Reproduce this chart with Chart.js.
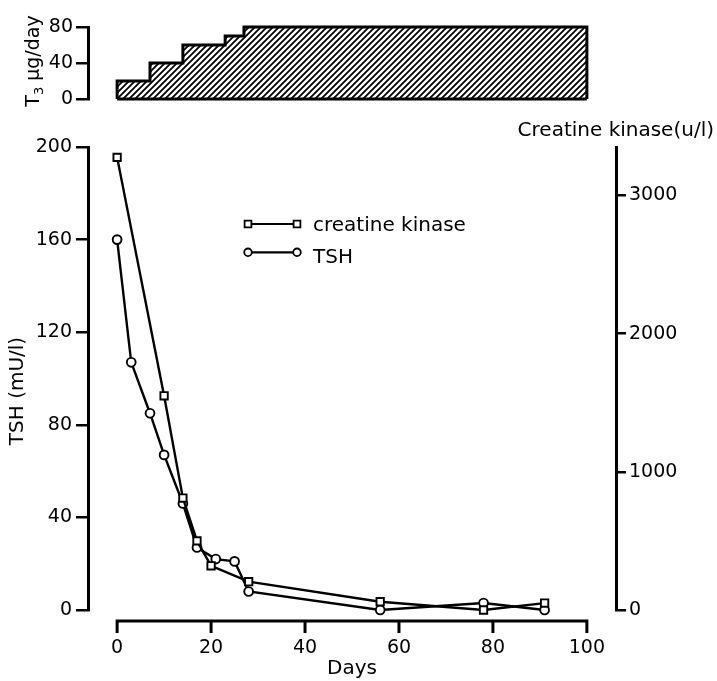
<!DOCTYPE html>
<html lang="en">
<head>
<meta charset="UTF-8">
<title>T3 dose, TSH and creatine kinase</title>
<script src="https://cdn.jsdelivr.net/npm/chart.js@4"></script>
<style>
    body { margin: 0; background: #fff; }
    #wrap { position: relative; width: 717px; height: 681px; }
    #t3Chart { position: absolute; left: 0; top: 0; }
    #mainChart { position: absolute; left: 0; top: 115px; }
</style>
</head>
<body>
<div id="wrap">
    <canvas id="t3Chart" width="717" height="115"></canvas>
    <canvas id="mainChart" width="717" height="566"></canvas>
</div>
<script>
// T3 dose: day each dose starts, and the dose (µg/day)
const t3StartDays = [0, 7, 14, 23, 27];
const t3Dose = [20, 40, 60, 70, 80];
const t3EndDay = 100;

// TSH (mU/l)
const tshDays = [0, 3, 7, 10, 14, 17, 21, 25, 28, 56, 78, 91];
const tshValues = [160, 107, 85, 67, 46, 27, 22, 21, 8, 0, 3, 0];

// creatine kinase (u/l)
const ckDays = [0, 10, 14, 17, 20, 28, 56, 78, 91];
const ckValues = [3275, 1550, 810, 500, 320, 205, 60, 0, 50];

// tick labels
const dayTicks = [0, 20, 40, 60, 80, 100];
const tshTicks = [0, 40, 80, 120, 160, 200];
const ckTicks = [0, 1000, 2000, 3000];
const t3Ticks = [0, 40, 80];

const FONT = '"DejaVu Sans"';
Chart.defaults.font.family = 'DejaVu Sans';
Chart.defaults.color = '#000';

const X_MIN = -6.2, X_MAX = 106.2;

function setTicks(list) {
    return scale => { scale.ticks = list.map(v => ({ value: v })); };
}
const plain = v => String(v);

// diagonal hatching for the dose area
function hatchPattern(ctx) {
    const c = document.createElement('canvas');
    c.width = 6; c.height = 6;
    const g = c.getContext('2d');
    g.strokeStyle = '#000';
    g.lineWidth = 1.8;
    g.beginPath();
    g.moveTo(-1, 7); g.lineTo(7, -1);
    g.moveTo(-4, 4); g.lineTo(4, -4);
    g.moveTo(2, 10); g.lineTo(10, 2);
    g.stroke();
    return ctx.createPattern(c, 'repeat');
}

// ---------- top chart: T3 dose ----------
const t3Points = [{ x: t3StartDays[0], y: 0 }];
t3StartDays.forEach((d, i) => t3Points.push({ x: d, y: t3Dose[i] }));
t3Points.push({ x: t3EndDay, y: t3Dose[t3Dose.length - 1] }, { x: t3EndDay, y: 0 });

const t3Title = {
    id: 't3Title',
    afterDraw(chart) {
        const ctx = chart.ctx;
        ctx.save();
        ctx.fillStyle = '#000';
        ctx.translate(34, 61);
        ctx.rotate(-Math.PI / 2);
        ctx.textBaseline = 'middle';
        ctx.textAlign = 'left';
        const big = '19px ' + FONT, small = '13px ' + FONT;
        const rest = ' µg/day';
        ctx.font = big;
        const wT = ctx.measureText('T').width;
        const wR = ctx.measureText(rest).width;
        ctx.font = small;
        const w3 = ctx.measureText('3').width;
        const x = -(wT + w3 + wR) / 2;
        ctx.font = big;
        ctx.fillText('T', x, 0);
        ctx.font = small;
        ctx.fillText('3', x + wT, 6);
        ctx.font = big;
        ctx.fillText(rest, x + wT + w3, 0);
        ctx.restore();
    }
};

const t3Canvas = document.getElementById('t3Chart');
new Chart(t3Canvas, {
    type: 'line',
    data: {
        datasets: [{
            data: t3Points,
            stepped: 'before',
            fill: 'origin',
            backgroundColor: hatchPattern(t3Canvas.getContext('2d')),
            borderColor: '#000',
            borderWidth: 3,
            borderJoinStyle: 'miter',
            pointRadius: 0,
            clip: false
        }, {
            data: [{ x: t3StartDays[0], y: 0 }, { x: t3EndDay, y: 0 }],
            borderColor: '#000',
            borderWidth: 3,
            pointRadius: 0,
            fill: false,
            clip: false
        }]
    },
    options: {
        responsive: false,
        animation: false,
        layout: { padding: { top: 27, bottom: 16, left: 0, right: 101 } },
        plugins: { legend: { display: false }, tooltip: { enabled: false } },
        scales: {
            x: { type: 'linear', min: X_MIN, max: X_MAX, display: false },
            y: {
                type: 'linear', min: 0, max: 80,
                afterBuildTicks: setTicks(t3Ticks),
                afterFit: s => { s.width = 88; },
                border: { color: '#000', width: 3 },
                grid: { drawOnChartArea: false, color: '#000', lineWidth: 2.5, tickLength: 12 },
                ticks: { font: { size: 19 }, color: '#000', padding: 3, callback: plain }
            }
        }
    },
    plugins: [t3Title]
});

// ---------- main chart: TSH and creatine kinase ----------
const mainExtras = {
    id: 'mainExtras',
    afterDraw(chart) {
        const { ctx, chartArea } = chart;
        const xs = chart.scales.x;
        ctx.save();
        ctx.strokeStyle = '#000';
        ctx.fillStyle = '#000';

        // days axis, set a little below the plot
        const ay = chartArea.bottom + 11;
        ctx.lineWidth = 3;
        ctx.beginPath();
        ctx.moveTo(xs.getPixelForValue(dayTicks[0]) - 1.5, ay);
        ctx.lineTo(xs.getPixelForValue(dayTicks[dayTicks.length - 1]) + 1.5, ay);
        dayTicks.forEach(d => {
            const px = xs.getPixelForValue(d);
            ctx.moveTo(px, ay);
            ctx.lineTo(px, ay + 12);
        });
        ctx.stroke();

        // axis titles
        ctx.font = '20px ' + FONT;
        ctx.textAlign = 'right';
        ctx.textBaseline = 'alphabetic';
        ctx.fillText('Creatine kinase(u/l)', 714, 21);

        ctx.save();
        ctx.translate(18, 276);
        ctx.rotate(-Math.PI / 2);
        ctx.textAlign = 'center';
        ctx.textBaseline = 'middle';
        ctx.fillText('TSH (mU/l)', 0, 0);
        ctx.restore();

        // legend
        const rows = [
            { text: chart.data.datasets[0].label, style: 'rect', y: 109, base: 115.5 },
            { text: chart.data.datasets[1].label, style: 'circle', y: 137.3, base: 148.3 }
        ];
        rows.forEach(r => {
            ctx.lineWidth = 2.2;
            ctx.beginPath();
            ctx.moveTo(248, r.y);
            ctx.lineTo(297, r.y);
            ctx.stroke();
            [248, 297].forEach(px => {
                ctx.beginPath();
                if (r.style === 'rect') ctx.rect(px - 3.4, r.y - 3.4, 6.8, 6.8);
                else ctx.arc(px, r.y, 3.8, 0, Math.PI * 2);
                ctx.fillStyle = '#fff';
                ctx.fill();
                ctx.lineWidth = 1.8;
                ctx.stroke();
            });
            ctx.fillStyle = '#000';
            ctx.textAlign = 'left';
            ctx.textBaseline = 'alphabetic';
            ctx.fillText(r.text, 313, r.base);
        });
        ctx.restore();
    }
};

new Chart(document.getElementById('mainChart'), {
    type: 'line',
    data: {
        datasets: [{
            label: 'creatine kinase',
            data: ckDays.map((d, i) => ({ x: d, y: ckValues[i] })),
            yAxisID: 'yCK',
            borderColor: '#000',
            borderWidth: 2.4,
            pointStyle: 'rect',
            pointRadius: 5.2,
            pointBackgroundColor: '#fff',
            pointBorderColor: '#000',
            pointBorderWidth: 1.9,
            clip: false
        }, {
            label: 'TSH',
            data: tshDays.map((d, i) => ({ x: d, y: tshValues[i] })),
            yAxisID: 'yTSH',
            borderColor: '#000',
            borderWidth: 2.4,
            pointStyle: 'circle',
            pointRadius: 4.4,
            pointBackgroundColor: '#fff',
            pointBorderColor: '#000',
            pointBorderWidth: 1.9,
            clip: false
        }]
    },
    options: {
        responsive: false,
        animation: false,
        layout: { padding: { top: 32, bottom: 0, left: 0, right: 0 } },
        plugins: { legend: { display: false }, tooltip: { enabled: false } },
        scales: {
            x: {
                type: 'linear', min: X_MIN, max: X_MAX,
                afterBuildTicks: setTicks(dayTicks),
                afterFit: s => { s.height = 71; },
                border: { display: false },
                grid: { display: false, drawTicks: false },
                ticks: { font: { size: 19 }, color: '#000', padding: 27, maxRotation: 0, autoSkip: false, callback: plain },
                title: { display: true, text: 'Days', font: { size: 20 }, color: '#000', padding: { top: 0, bottom: 0 } }
            },
            yTSH: {
                type: 'linear', axis: 'y', position: 'left', min: 0, max: 200,
                afterBuildTicks: setTicks(tshTicks),
                afterFit: s => { s.width = 88; },
                border: { color: '#000', width: 3 },
                grid: { drawOnChartArea: false, color: '#000', lineWidth: 2.5, tickLength: 12 },
                ticks: { font: { size: 19 }, color: '#000', padding: 4, callback: plain }
            },
            yCK: {
                type: 'linear', axis: 'y', position: 'right', min: 0, max: 3350,
                afterBuildTicks: setTicks(ckTicks),
                afterFit: s => { s.width = 101; },
                border: { color: '#000', width: 3 },
                grid: { drawOnChartArea: false, color: '#000', lineWidth: 2.5, tickLength: 10 },
                ticks: { font: { size: 19 }, color: '#000', padding: 3, callback: plain }
            }
        }
    },
    plugins: [mainExtras]
});
</script>
</body>
</html>
